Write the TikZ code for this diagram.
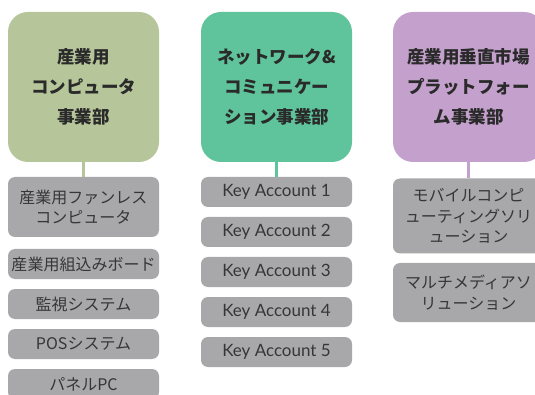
\documentclass[tikz,border=0pt]{standalone}
\usepackage{fontspec}
\newfontfamily\jp{Noto Sans CJK JP}
\newfontfamily\latn{Lato}
\definecolor{olive}{HTML}{B6C69A}
\definecolor{mint}{HTML}{5FC49B}
\definecolor{lilac}{HTML}{C3A1CC}
\definecolor{subgray}{HTML}{A8A8AB}
\definecolor{headtext}{HTML}{2A2A2A}
\definecolor{subtext}{HTML}{363636}
\tikzset{
  head/.style={fill=#1, rounded corners=20pt, minimum width=151pt, minimum height=150pt,
    inner sep=0pt, align=center, text=headtext,
    font=\jp\bfseries\fontsize{17.5}{30}\selectfont},
  sub/.style={fill=subgray, rounded corners=7pt, minimum width=151pt, minimum height=#1,
    inner sep=0pt, align=center, text=subtext,
    font=\jp\fontsize{16}{20.5}\selectfont},
  ka/.style={sub=30pt, font=\latn\fontsize{17}{20}\selectfont},
  link/.style={draw=#1, line width=3pt}
}
\begin{document}
\begin{tikzpicture}[x=1pt,y=-1pt]
\useasboundingbox (0,0) rectangle (535,395);
\clip (0,0) rectangle (535,395);
% column 1
\node[head=olive] (h1) at (83.5,87) {産業用\\コンピュータ\\事業部};
\node[sub=60pt] (a1) at (83.5,207) {産業用ファンレス\\コンピュータ};
\node[sub=30pt] (a2) at (83.5,264) {産業用組込みボード};
\node[sub=30pt] (a3) at (83.5,304) {監視システム};
\node[sub=30pt] (a4) at (83.5,344) {POSシステム};
\node[sub=30pt] (a5) at (83.5,384) {パネルPC};
\draw[link=olive] (h1.south) -- (a1.north);
% column 2
\node[head=mint] (h2) at (276.5,87) {ネットワーク\&\\コミュニケー\\ション事業部};
\node[ka] (b1) at (276.5,192) {Key Account 1};
\node[ka] (b2) at (276.5,232) {Key Account 2};
\node[ka] (b3) at (276.5,272) {Key Account 3};
\node[ka] (b4) at (276.5,312) {Key Account 4};
\node[ka] (b5) at (276.5,352) {Key Account 5};
\draw[link=mint] (h2.south) -- (b1.north);
% column 3
\node[head=lilac] (h3) at (468.5,87) {産業用垂直市場\\プラットフォー\\ム事業部};
\node[sub=75pt] (c1) at (468.5,216) {モバイルコンピ\\ューティングソリ\\ューション};
\node[sub=59pt, yshift=0pt] (c2) at (468.5,292.5) {マルチメディアソ\\リューション};
\draw[link=lilac] (h3.south) -- (c1.north);
\end{tikzpicture}
\end{document}
